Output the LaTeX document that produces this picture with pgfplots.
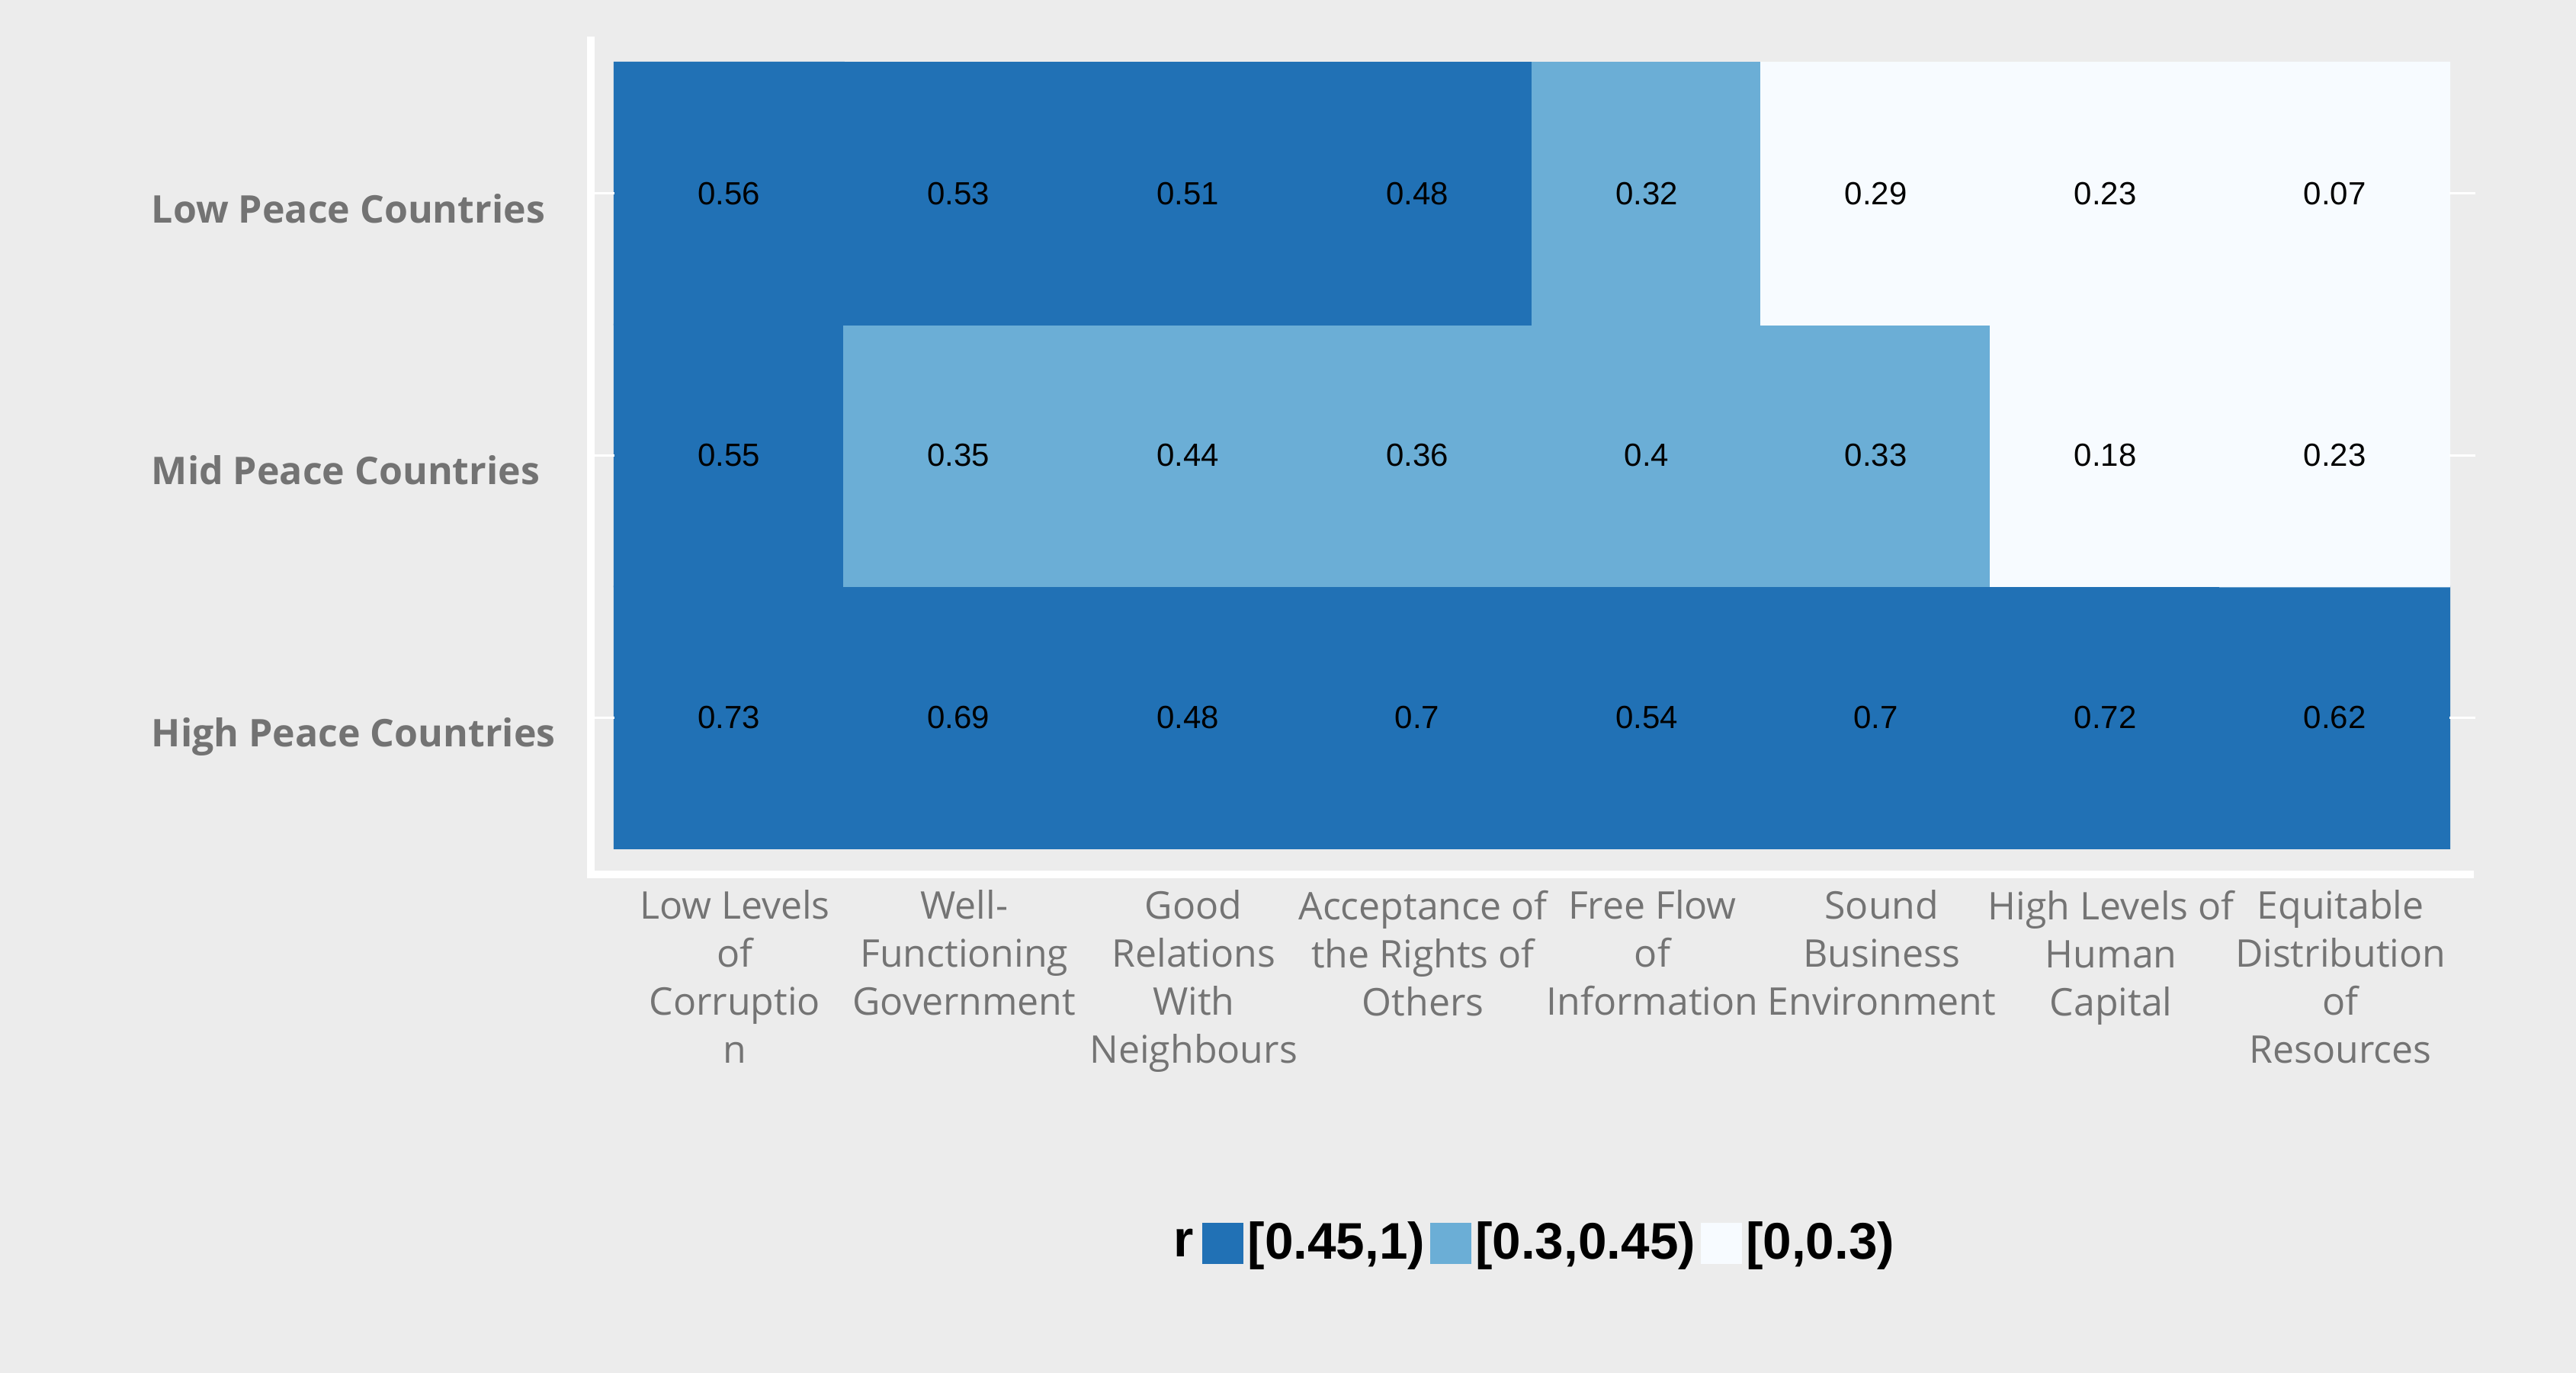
\documentclass[border=0pt]{standalone}
\usepackage{pgfplots}
\pgfplotsset{compat=1.18}
\usepackage{pgfplotstable}
\usetikzlibrary{backgrounds}
\usepackage{fontspec}
\setmainfont{Liberation Sans}
\newfontfamily\osans{Open Sans}

\definecolor{bgc}{RGB}{236,236,236}
\definecolor{cDark}{RGB}{33,113,181}
\definecolor{cLight}{RGB}{107,174,214}
\definecolor{cWhite}{RGB}{247,251,255}
\definecolor{xlab}{RGB}{116,116,116}
\definecolor{ylab}{RGB}{115,115,115}

% x: factor, y: 0 = High, 1 = Mid, 2 = Low peace countries
\pgfplotstableread{
x y r
0 0 0.73
1 0 0.69
2 0 0.48
3 0 0.7
4 0 0.54
5 0 0.7
6 0 0.72
7 0 0.62
0 1 0.55
1 1 0.35
2 1 0.44
3 1 0.36
4 1 0.4
5 1 0.33
6 1 0.18
7 1 0.23
0 2 0.56
1 2 0.53
2 2 0.51
3 2 0.48
4 2 0.32
5 2 0.29
6 2 0.23
7 2 0.07
}\heat

\begin{document}
\begin{tikzpicture}
\begin{axis}[
  name=ax,
  scale only axis,
  width=481.4pt, height=206.2pt,
  xmin=-0.5, xmax=7.5, ymin=-0.5, ymax=2.5,
  axis line style={draw=none},
  major tick length=0pt,
  clip=false,
  xtick={0,1,2,3,4,5,6,7},
  ytick={0,1,2},
  xticklabels={{Low Levels\\of\\Corruptio\\n},{Well-\\Functioning\\Government},{Good\\Relations\\With\\Neighbours},{Acceptance of\\the Rights of\\Others},{Free Flow\\of\\Information},{Sound\\Business\\Environment},{High Levels of\\Human\\Capital},{Equitable\\Distribution\\of\\Resources}},
  yticklabels={High Peace Countries,Mid Peace Countries,Low Peace Countries},
  xticklabel style={anchor=north, align=center, inner sep=0pt, yshift=-10.8pt, xshift=1.5pt,
    font=\osans\fontsize{10}{12.6}\selectfont, text=xlab},
  yticklabel style={anchor=base west, inner sep=0pt, xshift=-121.6pt, yshift=-7.7pt,
    font=\osans\bfseries\fontsize{10}{12}\selectfont, text=ylab},
  colormap={rclass}{rgb255(0cm)=(247,251,255) rgb255(3cm)=(107,174,214) rgb255(4.5cm)=(33,113,181) rgb255(10cm)=(33,113,181)},
  colormap access=piecewise constant,
  point meta min=0, point meta max=1,
  legend columns=-1,
  legend cell align=left,
  legend image code/.code={\fill[#1, draw=none] (0pt,-5.4pt) rectangle (10.8pt,5.4pt);},
  legend style={draw=none, fill=none, at={(0.5,-0.502)}, anchor=center,
    font=\bfseries\fontsize{13.5}{15}\selectfont,
    nodes={inner sep=0pt},
    /tikz/every odd column/.append style={column sep=1.1pt},
    /tikz/every even column/.append style={column sep=1.3pt}},
]
\addplot[matrix plot*, mesh/cols=8, mesh/rows=3, point meta=explicit, forget plot]
  table[x=x, y=y, meta=r] {\heat};
\addplot[only marks, mark=none, nodes near coords, point meta=explicit symbolic,
  every node near coord/.append style={anchor=center, inner sep=0pt,
    font=\fontsize{8.4}{10}\selectfont, text=black}, forget plot]
  table[x=x, y=y, meta=r] {\heat};

\addlegendimage{empty legend}
\addlegendentry{\raisebox{-1.3pt}{r}\hspace*{1pt}}
\addlegendimage{fill=cDark}
\addlegendentry{{[}0.45,1)}
\addlegendimage{fill=cLight}
\addlegendentry{{[}0.3,0.45)}
\addlegendimage{fill=cWhite}
\addlegendentry{{[}0,0.3)}

% white tick marks
\draw[white, line width=0.6pt] (axis cs:-0.5,0) -- ++(-5.2pt,0pt);
\draw[white, line width=0.6pt] (axis cs:-0.5,1) -- ++(-5.2pt,0pt);
\draw[white, line width=0.6pt] (axis cs:-0.5,2) -- ++(-5.2pt,0pt);
\draw[white, line width=0.6pt] (axis cs:7.5,0) -- ++(6.8pt,0pt);
\draw[white, line width=0.6pt] (axis cs:7.5,1) -- ++(6.8pt,0pt);
\draw[white, line width=0.6pt] (axis cs:7.5,2) -- ++(6.8pt,0pt);
\end{axis}

\draw[white, line width=2pt] ([xshift=-6.2pt,yshift=6.8pt]ax.north west) -- ([xshift=-6.2pt,yshift=-6.8pt]ax.south west) -- ([xshift=6.4pt,yshift=-6.8pt]ax.south east);

\begin{scope}[on background layer]
\fill[bgc] ([xshift=-161.2pt,yshift=-137.6pt]ax.south west) rectangle ([xshift=33.2pt,yshift=16.4pt]ax.north east);
\end{scope}
\pgfresetboundingbox
\useasboundingbox ([xshift=-161.2pt,yshift=-137.6pt]ax.south west) rectangle ([xshift=33.2pt,yshift=16.4pt]ax.north east);
\end{tikzpicture}
\end{document}
